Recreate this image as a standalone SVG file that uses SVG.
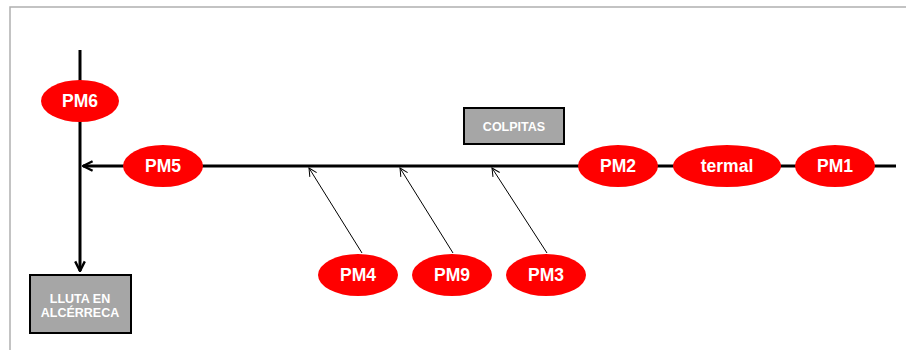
<svg xmlns="http://www.w3.org/2000/svg" width="906" height="350" viewBox="0 0 906 350">
  <style>
    .frame { stroke: #b0b0b0; stroke-width: 1.5; fill: none; }
    .main { stroke: #000; stroke-width: 3; fill: none; }
    .thin { stroke: #000; stroke-width: 1; fill: none; }
    .pm { fill: #ff0000; }
    .pm-label { font-family: "Liberation Sans", Arial, sans-serif; font-weight: bold; font-size: 17.5px; fill: #fff; text-anchor: middle; }
    .box { fill: #a6a6a6; stroke: #000; stroke-width: 2; }
    .box-label { font-family: "Liberation Sans", Arial, sans-serif; font-weight: bold; font-size: 12.5px; fill: #fff; text-anchor: middle; }
  </style>
  <defs>
    <marker id="headBold" viewBox="0 0 10 10" refX="9" refY="5" markerWidth="4" markerHeight="4" orient="auto" markerUnits="strokeWidth">
      <path d="M1,1 L9,5 L1,9" fill="none" stroke="#000" stroke-width="2"/>
    </marker>
    <marker id="headThin" viewBox="0 0 10 10" refX="9" refY="5" markerWidth="10" markerHeight="10" orient="auto" markerUnits="strokeWidth">
      <path d="M1,1 L9,5 L1,9" fill="none" stroke="#000" stroke-width="1"/>
    </marker>
  </defs>

  <rect width="906" height="350" fill="#fff"/>
  <!-- page frame -->
  <path class="frame" d="M10,350 V7 H906"/>

  <g id="connectors">
    <!-- main channel flowing left -->
    <path class="main" d="M896,166 H83" marker-end="url(#headBold)"/>
    <!-- vertical channel flowing down -->
    <path class="main" d="M80,50 V271" marker-end="url(#headBold)"/>
    <!-- tributary inputs -->
    <path class="thin" d="M362,253 L309,168" marker-end="url(#headThin)"/>
    <path class="thin" d="M453,253 L400,168" marker-end="url(#headThin)"/>
    <path class="thin" d="M547,253 L492,168" marker-end="url(#headThin)"/>
  </g>

  <g id="PM6">
    <ellipse class="pm" cx="80" cy="101" rx="39" ry="21"/>
    <text class="pm-label" x="80" y="107">PM6</text>
  </g>
  <g id="PM5">
    <ellipse class="pm" cx="163" cy="166" rx="40" ry="21"/>
    <text class="pm-label" x="163" y="172">PM5</text>
  </g>
  <g id="PM2">
    <ellipse class="pm" cx="618" cy="166" rx="40" ry="21"/>
    <text class="pm-label" x="618" y="172">PM2</text>
  </g>
  <g id="termal">
    <ellipse class="pm" cx="727" cy="166" rx="54" ry="21"/>
    <text class="pm-label" x="727" y="172">termal</text>
  </g>
  <g id="PM1">
    <ellipse class="pm" cx="835" cy="166" rx="40" ry="21"/>
    <text class="pm-label" x="835" y="172">PM1</text>
  </g>
  <g id="PM4">
    <ellipse class="pm" cx="358" cy="275" rx="40" ry="21"/>
    <text class="pm-label" x="358" y="281">PM4</text>
  </g>
  <g id="PM9">
    <ellipse class="pm" cx="452" cy="275" rx="40" ry="21"/>
    <text class="pm-label" x="452" y="281">PM9</text>
  </g>
  <g id="PM3">
    <ellipse class="pm" cx="546" cy="275" rx="40" ry="21"/>
    <text class="pm-label" x="546" y="281">PM3</text>
  </g>

  <g id="colpitas">
    <rect class="box" x="464" y="108" width="100" height="36"/>
    <text class="box-label" x="514" y="131">COLPITAS</text>
  </g>
  <g id="lluta">
    <rect class="box" x="30" y="275" width="101" height="58"/>
    <text class="box-label" x="80" y="303">LLUTA EN</text>
    <text class="box-label" x="80" y="317">ALCÉRRECA</text>
  </g>
</svg>
